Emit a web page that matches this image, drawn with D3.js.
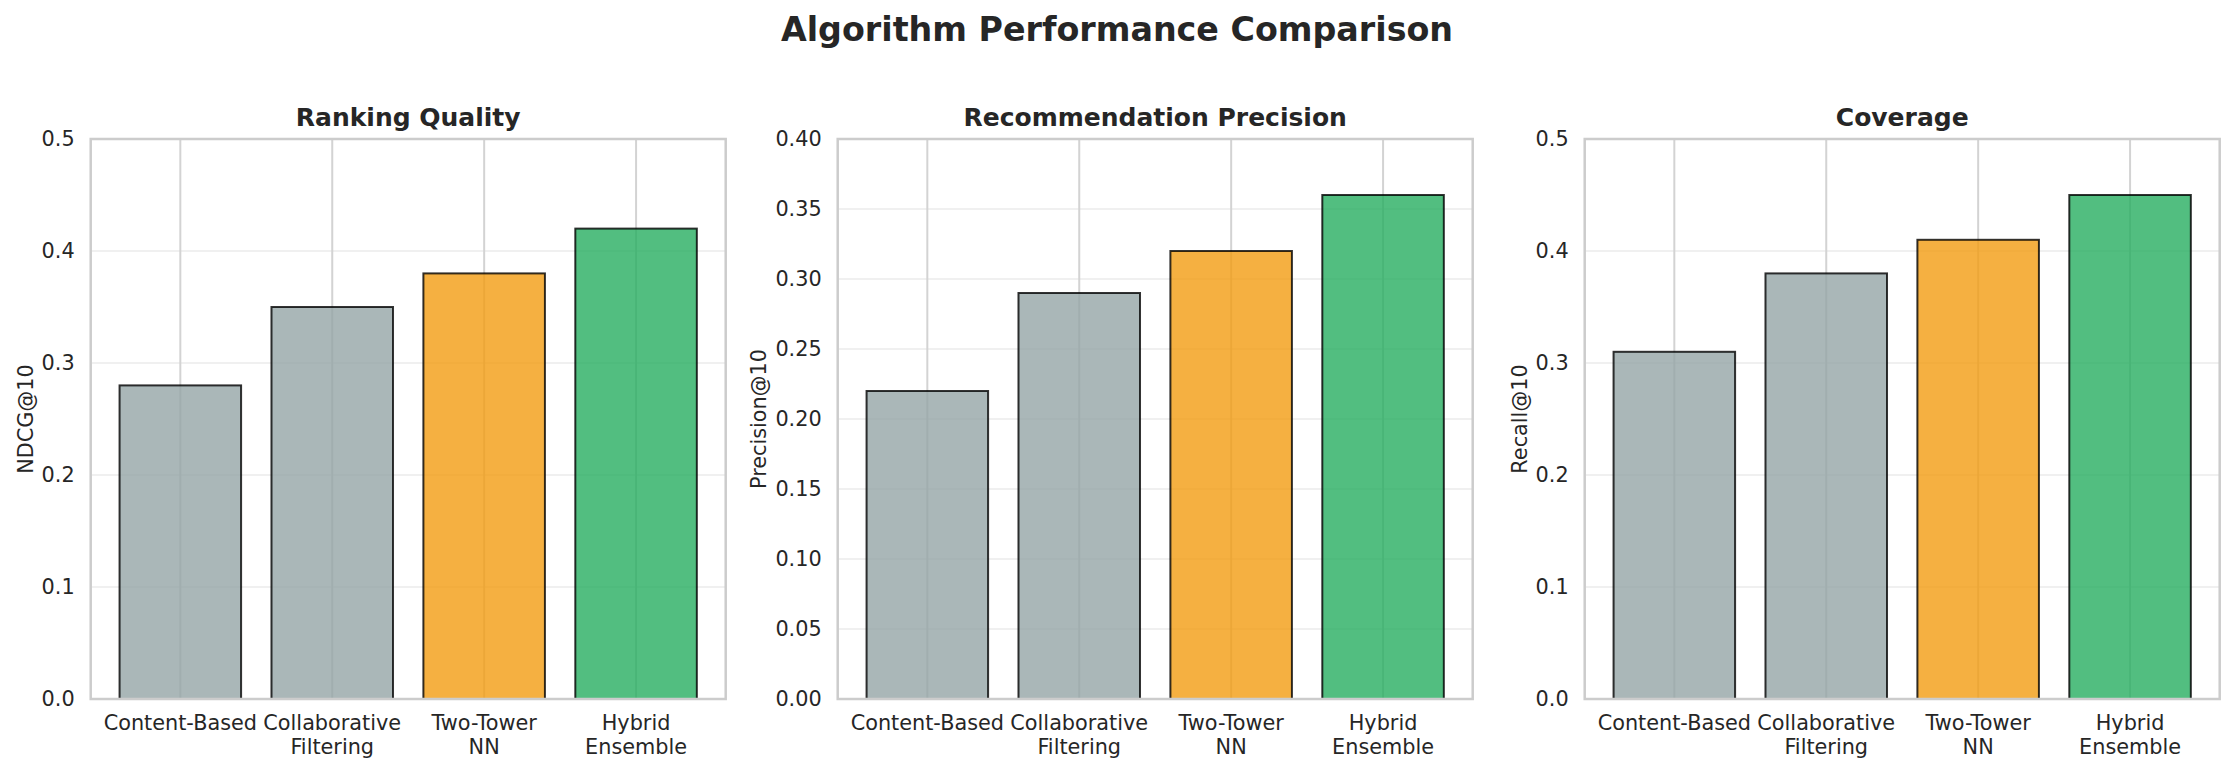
<!DOCTYPE html>
<html><head><meta charset="utf-8">
<script src="https://cdn.jsdelivr.net/npm/d3@7"></script>
<style>body{margin:0;background:#fff}svg{display:block}text{font-family:"DejaVu Sans",sans-serif;fill:#262626}</style>
</head><body><svg id="c" width="2234" height="772"></svg>
<script>
const categories = ["Content-Based", "Collaborative\nFiltering", "Two-Tower\nNN", "Hybrid\nEnsemble"];
const ndcgValues = [0.28, 0.35, 0.38, 0.42];
const precisionValues = [0.22, 0.29, 0.32, 0.36];
const recallValues = [0.31, 0.38, 0.41, 0.45];
const barColors = ["#95a5a6", "#95a5a6", "#f39c12", "#27ae60"];
const ndcgTicks = [0.0, 0.1, 0.2, 0.3, 0.4, 0.5];
const precisionTicks = [0.00, 0.05, 0.10, 0.15, 0.20, 0.25, 0.30, 0.35, 0.40];
const recallTicks = [0.0, 0.1, 0.2, 0.3, 0.4, 0.5];
const panels = [
  {title: "Ranking Quality", ylabel: "NDCG@10", values: ndcgValues, ticks: ndcgTicks, max: 0.5, fmt: d3.format(".1f")},
  {title: "Recommendation Precision", ylabel: "Precision@10", values: precisionValues, ticks: precisionTicks, max: 0.40, fmt: d3.format(".2f")},
  {title: "Coverage", ylabel: "Recall@10", values: recallValues, ticks: recallTicks, max: 0.5, fmt: d3.format(".1f")}
];
const svg = d3.select("#c");
svg.append("text").attr("x", 1117).attr("y", 41).attr("text-anchor", "middle")
  .style("font-size", "33.3px").style("font-weight", "bold").text("Algorithm Performance Comparison");

const lefts = [90.7, 837.7, 1584.7];
const W = 635, plotTop = 139, plotBottom = 699;
panels.forEach((p, i) => {
  const g = svg.append("g").attr("transform", `translate(${lefts[i]},0)`);
  const x = d3.scaleLinear().domain([-0.59, 3.59]).range([0, W]);
  const y = d3.scaleLinear().domain([0, p.max]).range([plotBottom, plotTop]);
  g.selectAll(".hg").data(p.ticks).join("line")
    .attr("x1", 0).attr("x2", W).attr("y1", d => y(d)).attr("y2", d => y(d))
    .attr("stroke", "#cccccc").attr("stroke-opacity", 0.3).attr("stroke-width", 2);
  g.selectAll(".vg").data(categories).join("line")
    .attr("x1", (d, j) => x(j)).attr("x2", (d, j) => x(j)).attr("y1", plotTop).attr("y2", plotBottom)
    .attr("stroke", "#d3d3d3").attr("stroke-width", 2);
  g.selectAll(".bar").data(p.values).join("rect")
    .attr("x", (d, j) => x(j - 0.4)).attr("width", x(0.4) - x(-0.4))
    .attr("y", d => y(d)).attr("height", d => y(0) - y(d))
    .attr("fill", (d, j) => barColors[j]).attr("fill-opacity", 0.8)
    .attr("stroke", "#000").attr("stroke-opacity", 0.8).attr("stroke-width", 2);
  g.append("rect").attr("x", 0).attr("y", plotTop).attr("width", W).attr("height", plotBottom - plotTop)
    .attr("fill", "none").attr("stroke", "#cccccc").attr("stroke-width", 2.5);
  const yt = g.selectAll(".yt").data(p.ticks).join("text")
    .attr("x", -16).attr("y", d => y(d)).attr("dy", "0.36em").attr("text-anchor", "end")
    .style("font-size", "20.8px").text(d => p.fmt(d));
  let maxW = 0; yt.each(function(){ maxW = Math.max(maxW, this.getBBox().width); });
  categories.forEach((c, j) => {
    const t = g.append("text").attr("text-anchor", "middle").style("font-size", "20.8px");
    c.split("\n").forEach((line, k) => {
      t.append("tspan").attr("x", x(j)).attr("y", 729.5 + k * 24.5).text(line);
    });
  });
  const lx = -16 - maxW - 9;
  g.append("text").attr("transform", `translate(${lx},${(plotTop + plotBottom) / 2}) rotate(-90)`)
    .attr("text-anchor", "middle").style("font-size", "20.8px").text(p.ylabel);
  g.append("text").attr("x", W / 2).attr("y", 126).attr("text-anchor", "middle")
    .style("font-size", "25px").style("font-weight", "bold").text(p.title);
});
</script></body></html>
